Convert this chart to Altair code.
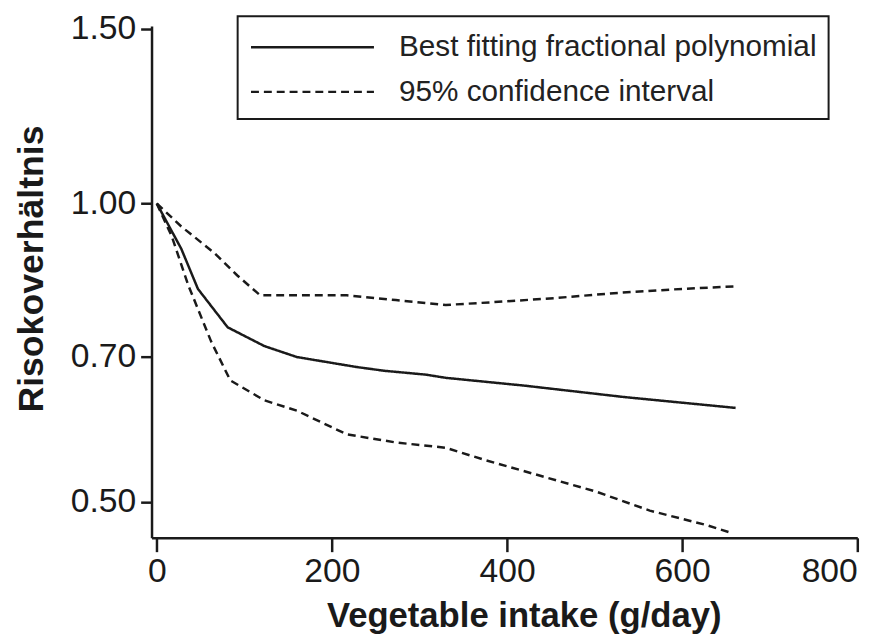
import altair as alt
import pandas as pd

# Data
fit_x = [0, 28, 47, 81, 123, 160, 228, 260, 307, 330, 420, 533, 661]
fit_y = [1.00, 0.90, 0.82, 0.75, 0.718, 0.70, 0.684, 0.678, 0.672, 0.667, 0.655, 0.638, 0.622]

upper_x = [0, 28, 66, 92, 118, 160, 217, 273, 330, 383, 457, 522, 589, 661]
upper_y = [1.00, 0.948, 0.891, 0.846, 0.808, 0.808, 0.808, 0.799, 0.790, 0.795, 0.803, 0.812, 0.819, 0.825]

lower_x = [0, 17, 36, 62, 84, 123, 160, 217, 273, 330, 375, 439, 502, 563, 627, 657]
lower_y = [1.00, 0.927, 0.827, 0.726, 0.663, 0.633, 0.618, 0.585, 0.574, 0.567, 0.551, 0.531, 0.512, 0.490, 0.474, 0.465]

series_names = ["Best fitting fractional polynomial", "95% confidence interval"]
x_ticks = [0, 200, 400, 600, 800]
y_ticks = [0.5, 0.7, 1.0, 1.5]

rows = []
for xs, ys, series, band in [
    (fit_x, fit_y, series_names[0], "fit"),
    (upper_x, upper_y, series_names[1], "upper"),
    (lower_x, lower_y, series_names[1], "lower"),
]:
    for i, (a, b) in enumerate(zip(xs, ys)):
        rows.append({"x": a, "y": b, "series": series, "band": band, "order": i})
df = pd.DataFrame(rows)

FONT = "Liberation Sans"
INK = "#1a1a1a"

chart = alt.Chart(df).mark_line(strokeWidth=2.5, color=INK).encode(
    x=alt.X("x:Q",
            scale=alt.Scale(domain=[-6, 800], nice=False, zero=False),
            axis=alt.Axis(values=x_ticks, title="Vegetable intake (g/day)",
                          titleX=376, titleY=90, titleBaseline="alphabetic",
                          titleAnchor="start", titleAlign="center",
                          tickSize=14, labelPadding=3, labelFontSize=34,
                          titleFontSize=35)),
    y=alt.Y("y:Q",
            scale=alt.Scale(type="log", domain=[0.46, 1.51], nice=False, zero=False),
            axis=alt.Axis(values=y_ticks, format=".2f", title="Risokoverhältnis",
                          titleX=-110, titleY=245, titleBaseline="alphabetic",
                          titleAlign="center", titleAngle=270,
                          tickSize=11, labelPadding=5, labelFontSize=34,
                          titleFontSize=36)),
    strokeDash=alt.StrokeDash("series:N",
                              scale=alt.Scale(domain=series_names, range=[[1, 0], [8, 5]]),
                              legend=alt.Legend(title=None, orient="none", legendX=87, legendY=-10,
                                                symbolType="M-1,0H5.9", symbolSize=1296,
                                                symbolStrokeWidth=2.5, symbolStrokeColor=INK,
                                                symbolFillColor="transparent",
                                                labelFontSize=30, labelOffset=112, labelFont=FONT,
                                                labelColor="#222222", rowPadding=10,
                                                padding=12, strokeColor=INK,
                                                fillColor="white", labelLimit=700)),
    detail="band:N",
    order="order:Q",
).properties(
    width=713, height=517,
    autosize=alt.AutoSizeParams(type="none"),
    padding={"left": 145, "top": 15, "right": 30, "bottom": 100},
).configure_view(stroke=None).configure_axis(
    grid=False, domainColor=INK, domainWidth=2.5, tickColor=INK, tickWidth=2.5,
    labelFont=FONT, titleFont=FONT, labelColor=INK, titleColor=INK,
    titleFontWeight="bold", labelFontWeight="normal",
).configure_legend(strokeWidth=2)

chart.save("out.html", embed_options={"renderer": "svg", "actions": False})
